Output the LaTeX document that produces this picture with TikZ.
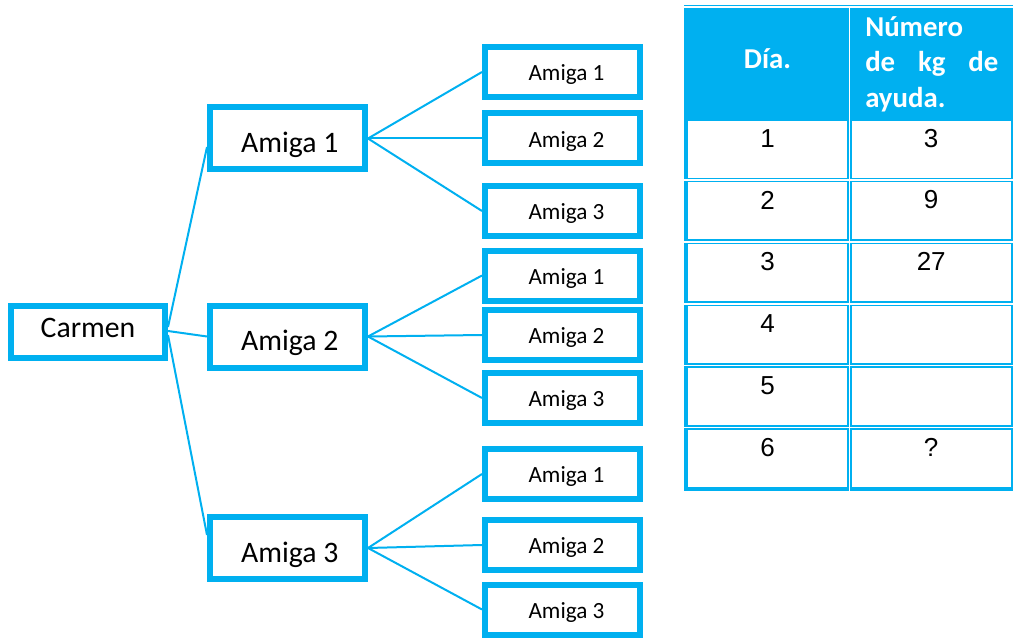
\documentclass[tikz,border=0pt]{standalone}
\usepackage{fontspec}
\setmainfont{Carlito}
\newfontfamily\numfont{Liberation Sans}
\usetikzlibrary{calc}
\definecolor{cy}{RGB}{0,176,240}
\begin{document}
\begin{tikzpicture}[x=0.75pt,y=-0.75pt,
  box/.style={draw=cy,line width=4.5pt,fill=white,inner sep=0pt,text=black},
  big/.style={box,minimum width=116.25pt,minimum height=46.5pt,font=\fontsize{22.3}{26}\selectfont,text height=21.2pt,text depth=0pt,execute at begin node={\hspace*{3.5pt}}},
  small/.style={box,minimum width=116.25pt,minimum height=37.5pt,font=\fontsize{17.4}{20}\selectfont,text height=13.2pt,text depth=0pt,execute at begin node={\hspace*{6pt}}},
  link/.style={draw=cy,line width=1.5pt},
  cell/.style={fill=white,inner sep=0pt,minimum width=119pt,minimum height=42.7pt},
  num/.style={inner sep=0pt,font=\numfont\fontsize{19.5}{22}\selectfont,text=black},
  hdr/.style={inner sep=0pt,text=white,font=\bfseries\fontsize{21.6}{26.8}\selectfont},
  sep/.style={draw=white,line width=1.2pt}]
\useasboundingbox (0,0) rectangle (1013,638);

% ---------- tree ----------
\node[box,minimum width=115.5pt,minimum height=39pt,font=\fontsize{22.3}{26}\selectfont,text height=8.4pt,text depth=0pt] (carmen) at (88,332) {Carmen};
\node[big] (a1) at (287.5,138.5) {Amiga 1};
\node[big] (a2) at (287.5,336.5) {Amiga 2};
\node[big] (a3) at (287.5,548) {Amiga 3};

\node[small] (b11) at (562.5,72)    {Amiga 1};
\node[small] (b12) at (562.5,138.5) {Amiga 2};
\node[small] (b13) at (562.5,211)   {Amiga 3};
\node[small] (b21) at (562.5,275.5) {Amiga 1};
\node[small] (b22) at (562.5,335)   {Amiga 2};
\node[small] (b23) at (562.5,398)   {Amiga 3};
\node[small] (b31) at (562.5,474)   {Amiga 1};
\node[small] (b32) at (562.5,545)   {Amiga 2};
\node[small] (b33) at (562.5,609.5) {Amiga 3};

\draw[link] ($(carmen.east)+(0,-5)$) -- ($(a1.west)+(0,8.5)$);
\draw[link] ($(carmen.east)+(0,-1)$) -- (a2.west);
\draw[link] ($(carmen.east)+(0,3)$) -- ($(a3.west)+(0,-13)$);
\foreach \g in {1,2,3}{
  \foreach \k in {1,2,3}{
    \draw[link] (a\g.east) -- (b\g\k.west);
  }
}

% ---------- table ----------
\fill[cy] (684,5.5) rectangle (1013,491);
\draw[sep] (684,7) -- (1013,7);
\draw[sep] (849.3,7) -- (849.3,491);
\foreach \s in {180,241.9,303.75,365.6,427.5}{
  \draw[sep] (684,\s) -- (1013,\s);
}
\foreach \r/\cy/\ty/\va/\vb in {1/149.25/138.5/1/3, 2/210.95/200/2/9, 3/272.8/261.9/3/27,
    4/334.7/323.75/4/{}, 5/396.5/385.6/5/{}, 6/458.5/447.5/6/?}{
  \node[cell] (c\r a) at (767.5,\cy) {};
  \node[cell] (c\r b) at (931.2,\cy) {};
  \node[num] (n\r a) at (767.5,\ty) {\va};
  \node[num] (n\r b) at (931.2,\ty) {\vb};
}
\node[hdr,anchor=base] (hdia) at (767.5,69) {Día.};
\node[hdr,anchor=base west] (hn1) at (865,36.7) {Número};
\node[hdr,anchor=base west] (hn2) at (865,71.7) {\makebox[99.75pt][s]{de kg de}};
\node[hdr,anchor=base west] (hn3) at (865,107.5) {ayuda.};
\end{tikzpicture}
\end{document}
